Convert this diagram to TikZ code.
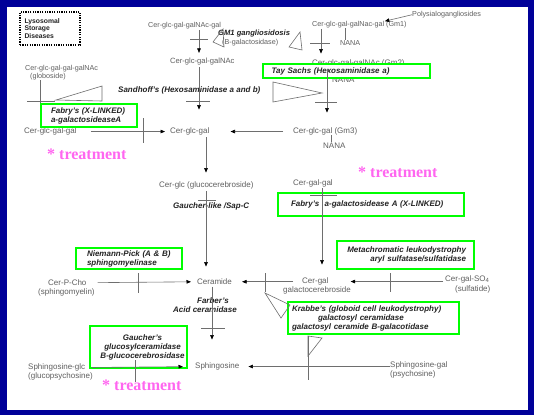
\documentclass[tikz,border=0pt]{standalone}
\usepackage{fontspec}
\setmainfont{Liberation Sans}
\newfontfamily\treatfont{Liberation Serif}
\usetikzlibrary{arrows.meta,calc}
\definecolor{frameblue}{RGB}{0,0,153}
\definecolor{boxgreen}{RGB}{0,255,0}
\definecolor{pinkmark}{RGB}{255,102,240}
\definecolor{chemgray}{RGB}{95,95,95}
\definecolor{enzdark}{RGB}{35,35,35}
\definecolor{linegray}{RGB}{110,110,110}
\begin{document}
\begin{tikzpicture}[x=1pt,y=-1pt,
  chem/.style={anchor=base west, inner sep=0pt, text=chemgray, font=\fontsize{8}{9}\selectfont},
  chemsm/.style={chem, font=\fontsize{7.2}{8}\selectfont},
  enz/.style={anchor=base west, inner sep=0pt, text=enzdark, font=\fontsize{8}{9}\selectfont\bfseries\itshape},
  gbox/.style={draw=boxgreen, line width=2.3pt, fill=white, inner sep=0pt, text=enzdark,
    font=\fontsize{8}{9}\selectfont\bfseries\itshape},
  treat/.style={anchor=base west, inner sep=0pt, text=pinkmark, font=\fontsize{16}{18}\selectfont\treatfont\bfseries},
  conn/.style={draw=linegray, line width=0.6pt},
  arr/.style={conn, -{Triangle[length=4.5pt,width=3.6pt,color=black]}},
  legend/.style={draw=black, line width=1.3pt, dash pattern=on 1.2pt off 1.2pt, inner sep=0pt,
    text=enzdark, font=\fontsize{6.8}{7.4}\selectfont\bfseries, align=left}
]
\useasboundingbox (0,0) rectangle (534,415);
% slide frame
\fill[frameblue] (0,0) rectangle (534,415);
\fill[white] (7,7) rectangle (528,410);

% column guides for the vertical pathways
\coordinate (colA) at (199,0);
\coordinate (colB) at (206,0);
\coordinate (colC) at (212,0);
\coordinate (colD) at (321,0);
\coordinate (colE) at (327,0);
\coordinate (colF) at (322,0);
\coordinate (colG) at (345,0);
\coordinate (colH) at (331,0);
\coordinate (colL) at (40,0);

% legend
\node[legend, minimum width=60pt, minimum height=33pt, text width=51pt] (legendbox) at (50,28.5)
  {Lysosomal\\Storage\\Diseases};

% substrates and products
\node[chemsm] (gmtop) at (148,27.6) {Cer-glc-gal-galNAc-gal};
\node[chemsm] (gm1) at (312,26.6) {Cer-glc-gal-galNac-gal (Gm1)};
\node[chemsm] (poly) at (412,16.6) {Polysialogangliosides};
\node[chemsm] (nanaA) at (340,45.6) {NANA};
\node[enz, font=\fontsize{7.6}{9}\selectfont\bfseries\itshape] (gm1lbl) at (218,35.6) {GM1 gangliosidosis};
\node[chemsm] (bgal) at (222,44.6) {(B-galactosidase)};
\node[chem, font=\fontsize{7.6}{9}\selectfont] (galnac) at (170,63.6) {Cer-glc-gal-galNAc};
\node[chem] (gm2) at (312,65.6) {Cer-glc-gal-galNAc (Gm2)};
\node[chem] (nanaB) at (332,82.2) {NANA};
\node[chemsm] (glob) at (25,70.6) {Cer-glc-gal-gal-galNAc};
\node[chemsm] (globo) at (30,78.6) {(globoside)};
\node[enz] (sand) at (118,92.6) {Sandhoff's (Hexosaminidase a and b)};
\node[chem] (cgg) at (24,133.6) {Cer-glc-gal-gal};
\node[chem] (cg) at (170,133.6) {Cer-glc-gal};
\node[chem] (gm3) at (293,133.6) {Cer-glc-gal (Gm3)};
\node[chem] (nanaC) at (323,148.6) {NANA};
\node[chem] (glc) at (159,187.6) {Cer-glc (glucocerebroside)};
\node[enz] (glike) at (173,208.6) {Gaucher-like /Sap-C};
\node[chem] (cgal2) at (293,185.6) {Cer-gal-gal};
\node[chem] (cpc) at (48,285.6) {Cer-P-Cho};
\node[chem] (sm) at (38,294.6) {(sphingomyelin)};
\node[chem] (cer) at (197,284.6) {Ceramide};
\node[enz, anchor=base] (farber) at (213,303.6) {Farber's};
\node[enz, anchor=base] (acid) at (205,312.6) {Acid ceramidase};
\node[chem] (cgal) at (302,283.6) {Cer-gal};
\node[chem] (gcb) at (283,292.6) {galactocerebroside};
\node[chem] (sulf) at (445,281.6) {Cer-gal-SO\textsubscript{4}};
\node[chem] (sulfd) at (455,291.6) {(sulfatide)};
\node[chem] (sglc) at (28,369.6) {Sphingosine-glc};
\node[chem] (gps) at (28,378.6) {(glucopsychosine)};
\node[chem] (sph) at (195,368.6) {Sphingosine};
\node[chem] (sgal) at (390,367.6) {Sphingosine-gal};
\node[chem] (psy) at (390,376.6) {(psychosine)};

% globoside branch, running under the Fabry box
\draw[conn] (globo.south -| colL) -- (cgg.north -| colL);
\draw[conn] (27,101) -- (55,101);

% enzyme deficiency boxes
\node[gbox, minimum width=167pt, minimum height=14pt, text width=150pt, align=left] (tay) at (346.5,71)
  {Tay Sachs (Hexosaminidase a)};
\node[gbox, minimum width=96pt, minimum height=23pt, text width=82pt, align=left] (fab1) at (89,115.5)
  {\hspace*{3pt}Fabry's (X-LINKED)\\\hspace*{3pt}a-galactosideaseA};
\node[gbox, minimum width=186pt, minimum height=23pt, text width=160pt, align=left] (fab2) at (371,204.5)
  {Fabry's\ \ a-galactosidease A (X-LINKED)};
\node[gbox, minimum width=106pt, minimum height=21pt, text width=90pt, align=left] (niem) at (129,258.5)
  {\hspace*{3pt}Niemann-Pick (A \& B)\\\hspace*{3pt}sphingomyelinase};
\node[gbox, minimum width=137pt, minimum height=28pt, text width=121pt, align=right] (meta) at (405.5,255)
  {Metachromatic leukodystrophy\\aryl sulfatase/sulfatidase};
\node[gbox, minimum width=171pt, minimum height=32pt, text width=163pt, align=left] (krab) at (373.5,318)
  {Krabbe's (globoid cell leukodystrophy)\\\hspace*{26pt}galactosyl ceramidase\\galactosyl ceramide B-galacotidase};
\node[gbox, minimum width=97pt, minimum height=42pt, text width=95pt, align=center] (gauch) at (138.5,347)
  {\hspace*{8pt}Gaucher's\\\hspace*{8pt}glucosylceramidase\\\hspace*{8pt}B-glucocerebrosidase};

% treatment marks
\node[treat] (t1) at (47,159) {*\ treatment};
\node[treat] (t2) at (358,177) {*\ treatment};
\node[treat] (t3) at (102,390) {*\ treatment};

% vertical pathway arrows
\draw[arr, shorten <=1pt, shorten >=5pt] (gmtop.south -| colA) -- (galnac.north -| colA);
\draw[arr, shorten <=2pt, shorten >=18pt] (galnac.south -| colA) -- (cg.north -| colA);
\draw[arr, shorten <=2pt, shorten >=9pt] (cg.south -| colB) -- (glc.north -| colB);
\draw[arr, shorten <=2pt, shorten >=12pt] (glc.south -| colB) -- (cer.north -| colB);
\draw[arr, shorten <=2pt, shorten >=23pt] (cer.south -| colC) -- (sph.north -| colC);
\draw[arr, shorten <=1pt, shorten >=6pt] (gm1.south -| colD) -- (gm2.north -| colD);
\draw[arr, shorten <=2pt, shorten >=15pt] (gm2.south -| colE) -- (gm3.north -| colE);
\draw[arr, shorten <=1pt, shorten >=13pt] (cgal2.south -| colF) -- (cgal.north -| colF);
\draw[conn] (gm1.south -| colG) -- (nanaA.north -| colG);
\draw[conn, shorten >=1pt] (gm3.south -| colH) -- (nanaC.north -| colH);
\draw[arr] (poly.west) -- ($(gm1.north east)+(-22,0)$);

% horizontal pathway arrows
\draw[arr, shorten <=14pt, shorten >=5pt] (cgg.east) -- (cg.west);
\draw[arr, shorten <=10pt, shorten >=21pt] (gm3.west |- cg.east) -- (cg.east);
\draw[arr, shorten <=11pt, shorten >=6pt] (cpc.east) -- (cer.west);
\draw[arr, shorten <=9pt, shorten >=10pt] (cgal.west |- cer.east) -- (cer.east);
\draw[arr, shorten <=2pt, shorten >=22pt] (sulf.west |- cgal.east) -- (cgal.east);
\draw[arr, shorten <=7pt, shorten >=12pt] (sglc.east) -- (sph.west);
\draw[arr, shorten >=9pt] (sgal.west |- sph.east) -- (sph.east);

% enzyme block marks across the pathways
\draw[conn] (190,39) -- (208,39);
\draw[conn] (186,101) -- (210,101);
\draw[conn] (143,118) -- (143,143);
\draw[conn] (198,200) -- (216,200);
\draw[conn] (138,273) -- (138,293);
\draw[conn] (201,328) -- (225,328);
\draw[conn] (135,360) -- (135,382);
\draw[conn] (310,43) -- (330,43);
\draw[conn] (315,102) -- (337,102);
\draw[conn] (310,195) -- (337,195);
\draw[conn] (265,273) -- (265,292);
\draw[conn] (390,273) -- (390,292);
\draw[conn] (308,336) -- (308,380);

% pointer wedges
\draw[conn] (56,100) -- (102,86) -- (102,101) -- cycle;
\draw[conn] (273,82) -- (273,102) -- (322,93) -- cycle;
\draw[conn] (223,29) -- (213,42) -- (224,47) -- cycle;
\draw[conn] (300,32) -- (289,47) -- (302,50) -- cycle;
\draw[conn] (265,293) -- (290,305) -- (281,318) -- cycle;
\draw[conn] (308,336) -- (322,338) -- (308,356) -- cycle;
\end{tikzpicture}
\end{document}
